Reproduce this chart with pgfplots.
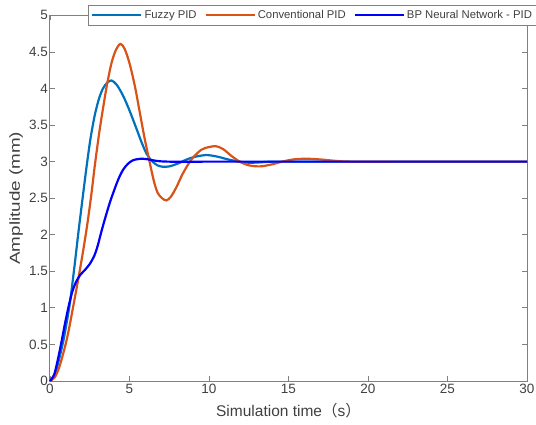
\documentclass[border=0pt]{standalone}
\usepackage{fontspec}
\setmainfont{Liberation Sans}
\newfontfamily\cjk{Noto Sans CJK SC}
\usepackage{pgfplots}
\pgfplotsset{compat=1.18}
\definecolor{mblue}{rgb}{0,0.447,0.741}
\definecolor{morange}{rgb}{0.85,0.325,0.098}
\definecolor{bpblue}{rgb}{0,0,1}
\definecolor{axgray}{gray}{0.5}
\definecolor{txtgray}{gray}{0.25}
\begin{document}
\begin{tikzpicture}
\useasboundingbox (-50pt,-43pt) rectangle (486pt,381pt);
\begin{axis}[
  scale only axis,
  width=477pt, height=365.6pt,
  xmin=0, xmax=30, ymin=0, ymax=5,
  xtick={0,5,...,30},
  ytick={0,0.5,1,1.5,2,2.5,3,3.5,4,4.5,5},
  yticklabels={0,0.5,1,1.5,2,2.5,3,3.5,4,4.5,5},
  /pgf/number format/assume math mode=true,
  tick align=inside,
  major tick length=5pt,
  axis line style={axgray, line width=1pt},
  every tick/.style={axgray, line width=0.8pt},
  tick label style={font=\fontsize{13.5}{15}\selectfont, text=txtgray},
  xticklabel style={yshift=0.5pt},
  yticklabel style={xshift=1.5pt},
  xlabel={Simulation time{\cjk （}s{\cjk ）}},
  ylabel={Amplitude (mm)},
  xlabel style={font=\fontsize{15.5}{17}\selectfont, text=txtgray, at={(axis description cs:0.5,-0.08)}, anchor=center},
  ylabel style={font=\fontsize{14.5}{16}\selectfont, text=txtgray, at={(axis description cs:-0.071,0.5)}, anchor=center, xscale=1.3},
  legend columns=3,
  legend style={at={(rel axis cs:0.0795,1.0284)}, anchor=north west,
    draw=axgray, line width=0.8pt, fill=white,
    font=\fontsize{11.3}{13}\selectfont, text=txtgray,
    inner xsep=3pt, inner ysep=3pt,
    /tikz/every even column/.append style={column sep=6pt}},
  legend image code/.code={\draw[#1] (0pt,0pt) -- (49pt,0pt);},
  clip=false,
]
\addplot[mblue, line width=2.2pt, smooth] coordinates {
(0,0) (0.3,0.09) (0.55,0.28) (0.84,0.55) (1.05,0.8) (1.26,1.08) (1.53,1.55)
(1.78,2.02) (2.05,2.5) (2.3,2.93) (2.55,3.32) (2.82,3.64) (3.08,3.86) (3.33,4.0)
(3.6,4.08) (3.87,4.11) (4.2,4.05) (4.6,3.9) (5.0,3.7) (5.44,3.45) (5.75,3.27)
(6.07,3.11) (6.4,3.01) (6.75,2.95) (7.1,2.93) (7.5,2.935) (8.0,2.97) (8.5,3.02)
(9.0,3.06) (9.8,3.09) (10.5,3.07) (11.2,3.03) (11.9,3.0) (12.5,2.985) (13.2,2.99)
(14,3.0) (16,3.0) (20,3.0) (25,3.0) (30,3.0)};
\addlegendentry{Fuzzy PID}
\addplot[morange, line width=2.2pt, smooth] coordinates {
(0,0) (0.3,0.05) (0.6,0.2) (0.98,0.5) (1.2,0.72) (1.46,1.02) (1.7,1.3) (1.88,1.52)
(2.1,1.8) (2.35,2.15) (2.6,2.55) (2.82,2.95) (3.1,3.4) (3.35,3.75) (3.6,4.07)
(3.87,4.35) (4.15,4.53) (4.43,4.61) (4.7,4.54) (5.02,4.33) (5.35,4.02) (5.65,3.67)
(5.95,3.32) (6.28,2.98) (6.55,2.72) (6.78,2.57) (7.05,2.5) (7.32,2.47) (7.6,2.52)
(7.95,2.65) (8.36,2.84) (8.9,3.03) (9.5,3.16) (10.0,3.2) (10.46,3.21) (10.9,3.17)
(11.4,3.08) (11.93,3.0) (12.5,2.95) (13.2,2.935) (13.9,2.96) (14.6,3.0) (15.3,3.03)
(16.1,3.04) (17,3.03) (18,3.01) (19,3.0) (22,3.0) (26,3.0) (30,3.0)};
\addlegendentry{Conventional PID}
\addplot[bpblue, line width=2.2pt, smooth] coordinates {
(0,0) (0.25,0.08) (0.45,0.25) (0.69,0.5) (0.92,0.76) (1.15,1.0) (1.4,1.22)
(1.65,1.36) (1.9,1.45) (2.2,1.52) (2.5,1.6) (2.8,1.72) (3.0,1.85) (3.24,2.05)
(3.5,2.25) (3.75,2.43) (3.97,2.57) (4.3,2.76) (4.6,2.89) (4.9,2.97) (5.23,3.02)
(5.75,3.04) (6.2,3.03) (6.7,3.01) (7.5,3.0) (10,3.0) (15,3.0) (20,3.0) (25,3.0) (30,3.0)};
\addlegendentry{BP Neural Network - PID}
\end{axis}
\end{tikzpicture}
\end{document}
